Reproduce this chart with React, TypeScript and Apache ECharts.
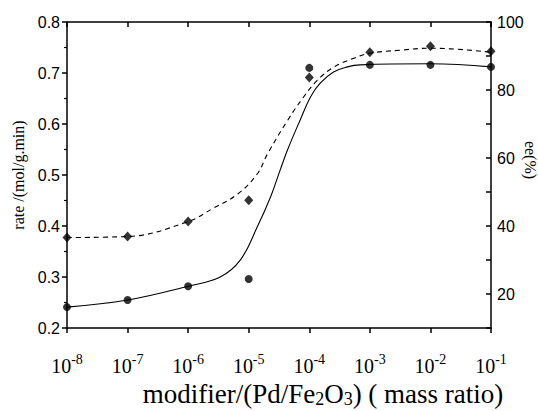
import React, { useEffect, useRef } from "react";
import * as echarts from "echarts";

// measured data points (modifier mass ratio)
const xValues = [1e-8, 1e-7, 1e-6, 1e-5, 1e-4, 1e-3, 1e-2, 1e-1];
const rateValues = [0.241, 0.255, 0.282, 0.296, 0.71, 0.716, 0.716, 0.712];
const eeValues = [36.6, 36.9, 41.3, 47.6, 83.7, 91.1, 92.9, 91.4];

// fitted curves: [log10(x), value]
const rateFitExp = [-8, -7, -6, -5.47, -5.14, -4.86, -4.64, -4.48, -4.36, -4.15, -3.98, -3.82, -3.6, -3.37, -3.16, -2, -1];
const rateFitVal = [0.241, 0.255, 0.282, 0.3, 0.333, 0.398, 0.457, 0.51, 0.549, 0.608, 0.653, 0.68, 0.702, 0.712, 0.716, 0.718, 0.712];
const eeFitExp = [-8, -7, -6, -5.59, -5.19, -4.86, -4.69, -4.36, -4.1, -3.87, -3.6, -3.27, -3, -2.5, -2, -1];
const eeFitVal = [36.6, 36.9, 41.3, 45.2, 49.3, 55.3, 61.2, 71.0, 77.8, 82.8, 86.7, 89.3, 90.8, 91.7, 92.3, 91.1];

const rateTicks = [0.2, 0.3, 0.4, 0.5, 0.6, 0.7, 0.8];
const eeTicks = [20, 40, 60, 80, 100];

export default function App() {
  const ref = useRef<HTMLDivElement>(null);
  useEffect(() => {
    if (!ref.current) return;
    const chart = echarts.init(ref.current, null, { renderer: "svg" });
    const serif = "Liberation Serif";
    const sans = "Liberation Sans";
    const axisLine = { show: true, lineStyle: { color: "#000", width: 1.5 } };
    chart.setOption({
      animation: false,
      backgroundColor: "#fff",
      grid: { left: 67, right: 47, top: 22, bottom: 83, outerBoundsMode: "none", containLabel: false },
      graphic: [
        {
          type: "text",
          x: 530,
          y: 160,
          rotation: -Math.PI / 2,
          style: {
            text: "ee(%)",
            fontFamily: serif,
            fontSize: 16,
            fill: "#000",
            align: "center",
            verticalAlign: "middle",
          },
        },
      ],
      xAxis: [
        {
          type: "log",
          logBase: 10,
          min: 1e-8,
          max: 1e-1,
          axisLine,
          axisTick: { show: true, inside: false, length: 5, lineStyle: { color: "#000", width: 1.5 } },
          splitLine: { show: false },
          axisLabel: {
            margin: 24,
            color: "#000",
            fontFamily: serif,
            fontSize: 20,
            formatter: (v: number) => `{b|10}{s|${Math.round(Math.log10(v))}}`,
            rich: {
              b: { fontFamily: serif, fontSize: 20, color: "#000", lineHeight: 24, verticalAlign: "bottom" },
              s: { fontFamily: serif, fontSize: 14, color: "#000", lineHeight: 13, verticalAlign: "top" },
            },
          },
          name: "{m|modifier/(Pd/Fe}{sub|2}{m|O}{sub|3}{m|) ( mass ratio)}",
          nameLocation: "middle",
          nameGap: 49,
          nameTextStyle: {
            padding: [0, 0, 0, 88],
            rich: {
              m: { fontFamily: serif, fontSize: 27, color: "#000", lineHeight: 28, verticalAlign: "bottom" },
              sub: { fontFamily: serif, fontSize: 18, color: "#000", lineHeight: 14, verticalAlign: "bottom" },
            },
          },
        },
        {
          type: "log",
          logBase: 10,
          min: 1e-8,
          max: 1e-1,
          position: "top",
          axisLine,
          axisTick: { show: true, inside: true, length: 5, lineStyle: { color: "#000", width: 1.5 } },
          axisLabel: { show: false },
          splitLine: { show: false },
        },
      ],
      yAxis: [
        {
          type: "value",
          min: 0.2,
          max: 0.8,
          interval: 0.1,
          axisLine,
          axisTick: { show: true, inside: false, length: 5, lineStyle: { color: "#000", width: 1.5 } },
          minorTick: { show: true, splitNumber: 2, length: 3, lineStyle: { color: "#000", width: 1.2 } },
          splitLine: { show: false },
          axisLabel: {
            customValues: rateTicks,
            color: "#000",
            fontFamily: sans,
            fontSize: 16,
            margin: 7,
            formatter: (v: number) => v.toFixed(1),
          },
          name: "rate /(mol/g.min)",
          nameLocation: "middle",
          nameGap: 40,
          nameRotate: 90,
          nameTextStyle: { fontFamily: serif, fontSize: 16, color: "#000" },
        },
        {
          type: "value",
          min: 10,
          max: 100,
          interval: 10,
          position: "right",
          axisLine,
          axisTick: { show: true, inside: true, length: 5, lineStyle: { color: "#000", width: 1.5 } },
          splitLine: { show: false },
          axisLabel: {
            customValues: eeTicks,
            color: "#000",
            fontFamily: sans,
            fontSize: 16,
            margin: 6,
          },
        },
      ],
      series: [
        {
          type: "line",
          xAxisIndex: 0,
          yAxisIndex: 0,
          data: rateFitExp.map((e, i) => [Math.pow(10, e), rateFitVal[i]]),
          smooth: 0.4,
          showSymbol: false,
          symbol: "none",
          lineStyle: { color: "#000", width: 1.1, type: "solid" },
          z: 2,
        },
        {
          type: "line",
          xAxisIndex: 0,
          yAxisIndex: 1,
          data: eeFitExp.map((e, i) => [Math.pow(10, e), eeFitVal[i]]),
          smooth: 0.4,
          showSymbol: false,
          symbol: "none",
          lineStyle: { color: "#000", width: 1.1, type: [5, 4] },
          z: 2,
        },
        {
          type: "scatter",
          xAxisIndex: 0,
          yAxisIndex: 0,
          data: xValues.map((x, i) => [x, rateValues[i]]),
          symbol: "circle",
          symbolSize: 8,
          itemStyle: { color: "#000" },
          z: 3,
        },
        {
          type: "scatter",
          xAxisIndex: 0,
          yAxisIndex: 1,
          data: xValues.map((x, i) => [x, eeValues[i]]),
          symbol: "diamond",
          symbolSize: [9, 10],
          itemStyle: { color: "#000" },
          z: 3,
        },
      ],
    });
    return () => chart.dispose();
  }, []);
  return <div ref={ref} style={{ width: 538, height: 411, position: "absolute", left: 0, top: 0 }} />;
}
